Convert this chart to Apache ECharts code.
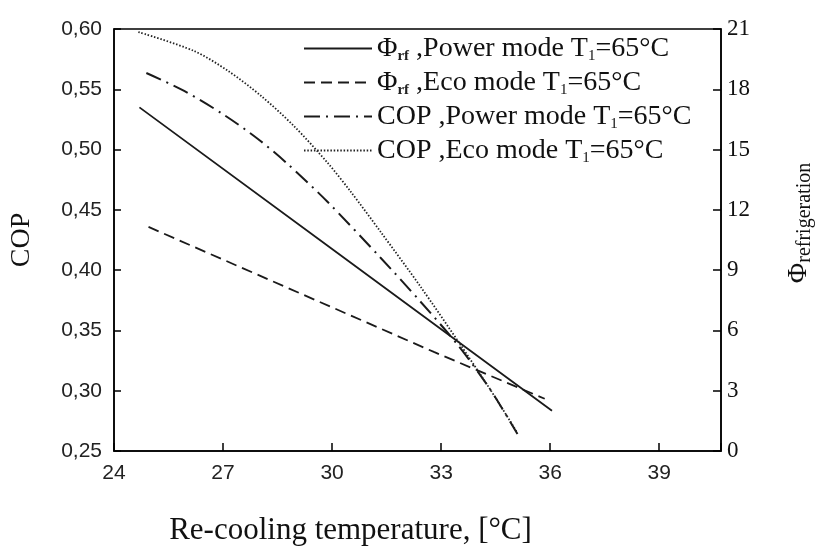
<!DOCTYPE html>
<html>
<head>
<meta charset="utf-8">
<script src="https://cdn.jsdelivr.net/npm/echarts@6/dist/echarts.min.js"></script>
<style>html,body{margin:0;padding:0;background:#fff}#c{width:825px;height:551px}</style>
</head>
<body>
<div id="c"></div>
<script>
// Re-cooling temperature (°C) and values
const phiPowerX = [24.7, 30.0, 36.05];
const phiPowerY = [17.1, 10.05, 2.0];
const phiEcoX = [24.95, 32.8, 35.85];
const phiEcoY = [11.15, 4.93, 2.6];
const copPowerX = [24.89, 25.93, 27.03, 27.96, 28.78, 29.88, 31.34, 32.44, 33.48, 34.36, 35.10];
const copPowerY = [0.5635, 0.5486, 0.5287, 0.5088, 0.4880, 0.4565, 0.4101, 0.3736, 0.3371, 0.3006, 0.2641];
const copEcoX = [24.67, 26.20, 27.14, 28.05, 28.95, 29.88, 30.52, 31.34, 32.44, 33.48, 34.36, 35.10];
const copEcoY = [0.5975, 0.5818, 0.5652, 0.5444, 0.5195, 0.4889, 0.4648, 0.4316, 0.3860, 0.3404, 0.3006, 0.2649];
const seriesNames = ['Phi_power', 'Phi_eco', 'COP_power', 'COP_eco'];
const legendLabels = {
  Phi_power: '{t|Φ}{s|rf}{t| ,Power mode T}{n|1}{t|=65°C}',
  Phi_eco: '{t|Φ}{s|rf}{t| ,Eco mode T}{n|1}{t|=65°C}',
  COP_power: '{t|COP ,Power mode T}{n|1}{t|=65°C}',
  COP_eco: '{t|COP ,Eco mode T}{n|1}{t|=65°C}'
};
const xTicks = {min: 24, max: 40.7, interval: 3};
const copTicks = {min: 0.25, max: 0.60, interval: 0.05};
const phiTicks = {min: 0, max: 21, interval: 3};

const zip = (xs, ys) => xs.map((x, i) => [x, ys[i]]);
const serif = 'Liberation Serif';
const sans = 'Liberation Sans';
const chart = echarts.init(document.getElementById('c'), null, {renderer: 'canvas'});
const lineCol = '#1a1a1a';
chart.setOption({
  animation: false,
  backgroundColor: '#fff',
  grid: {left: 113, right: 104, top: 29, bottom: 100, show: true, borderColor: '#000', borderWidth: 1.5, backgroundColor: 'transparent'},
  legend: {
    orient: 'vertical', left: 303, top: 33, padding: 0, itemWidth: 68, itemHeight: 14, itemGap: 3,
    data: seriesNames,
    itemStyle: {opacity: 0},
    formatter: n => legendLabels[n],
    textStyle: {
      fontFamily: serif, fontSize: 28, color: '#111', lineHeight: 31,
      rich: {
        t: {fontFamily: serif, fontSize: 28, color: '#111', lineHeight: 31},
        s: {fontFamily: serif, fontSize: 15, fontWeight: 'bold', color: '#222', verticalAlign: 'bottom', lineHeight: 15},
        n: {fontFamily: serif, fontSize: 15, color: '#111', verticalAlign: 'bottom', lineHeight: 15}
      }
    }
  },
  xAxis: {
    type: 'value', min: xTicks.min, max: xTicks.max, interval: xTicks.interval,
    name: 'Re-cooling temperature, [°C]', nameLocation: 'middle', nameGap: 64,
    nameTextStyle: {fontFamily: serif, fontSize: 31, color: '#111', padding: [0, 134, 0, 0]},
    axisLine: {show: true, lineStyle: {color: '#000', width: 1.5}},
    axisTick: {show: true, inside: true, length: 8, lineStyle: {color: '#000', width: 1.5}},
    axisLabel: {fontFamily: sans, fontSize: 21, color: '#222', margin: 12,
      formatter: v => (Math.abs(v / 3 - Math.round(v / 3)) < 1e-6 ? String(Math.round(v)) : '')},
    splitLine: {show: false}
  },
  yAxis: [
    {
      type: 'value', min: copTicks.min, max: copTicks.max, interval: copTicks.interval, position: 'left',
      name: 'COP', nameLocation: 'middle', nameGap: 78, nameRotate: 90,
      nameTextStyle: {fontFamily: serif, fontSize: 28, color: '#111'},
      axisLine: {show: true, lineStyle: {color: '#000', width: 1.5}},
      axisTick: {show: true, inside: true, length: 7, lineStyle: {color: '#000', width: 1.5}},
      axisLabel: {fontFamily: sans, fontSize: 21, color: '#222', margin: 12,
        formatter: v => v.toFixed(2).replace('.', ',')},
      splitLine: {show: false}
    },
    {
      type: 'value', min: phiTicks.min, max: phiTicks.max, interval: phiTicks.interval, position: 'right',
      name: '{a|Φ}{b|refrigeration}', nameLocation: 'middle', nameGap: 62, nameRotate: 90,
      nameTextStyle: {fontFamily: serif, fontSize: 24, color: '#111', padding: [0, 0, 0, 34],
        rich: {
          a: {fontFamily: serif, fontSize: 28, color: '#111', lineHeight: 32},
          b: {fontFamily: serif, fontSize: 20, color: '#111', verticalAlign: 'bottom', lineHeight: 20}
        }},
      axisLine: {show: true, lineStyle: {color: '#000', width: 1.5}},
      axisTick: {show: true, inside: true, length: 8, lineStyle: {color: '#000', width: 1.5}},
      axisLabel: {fontFamily: serif, fontSize: 23, color: '#111', margin: 6},
      splitLine: {show: false}
    }
  ],
  series: [
    {name: 'Phi_power', type: 'line', yAxisIndex: 1, symbol: 'none', smooth: false,
      data: zip(phiPowerX, phiPowerY), lineStyle: {color: lineCol, width: 1.8, type: 'solid'}, itemStyle: {color: lineCol}},
    {name: 'Phi_eco', type: 'line', yAxisIndex: 1, symbol: 'none', smooth: false,
      data: zip(phiEcoX, phiEcoY), lineStyle: {color: lineCol, width: 1.8, type: [11, 6]}, itemStyle: {color: lineCol}},
    {name: 'COP_power', type: 'line', yAxisIndex: 0, symbol: 'none', smooth: 0.3,
      data: zip(copPowerX, copPowerY), lineStyle: {color: lineCol, width: 2, type: [16, 6, 2, 6]}, itemStyle: {color: lineCol}},
    {name: 'COP_eco', type: 'line', yAxisIndex: 0, symbol: 'none', smooth: 0.3,
      data: zip(copEcoX, copEcoY), lineStyle: {color: '#222', width: 1.8, type: [1.5, 1.8]}, itemStyle: {color: '#222'}}
  ]
});
</script>
</body>
</html>
